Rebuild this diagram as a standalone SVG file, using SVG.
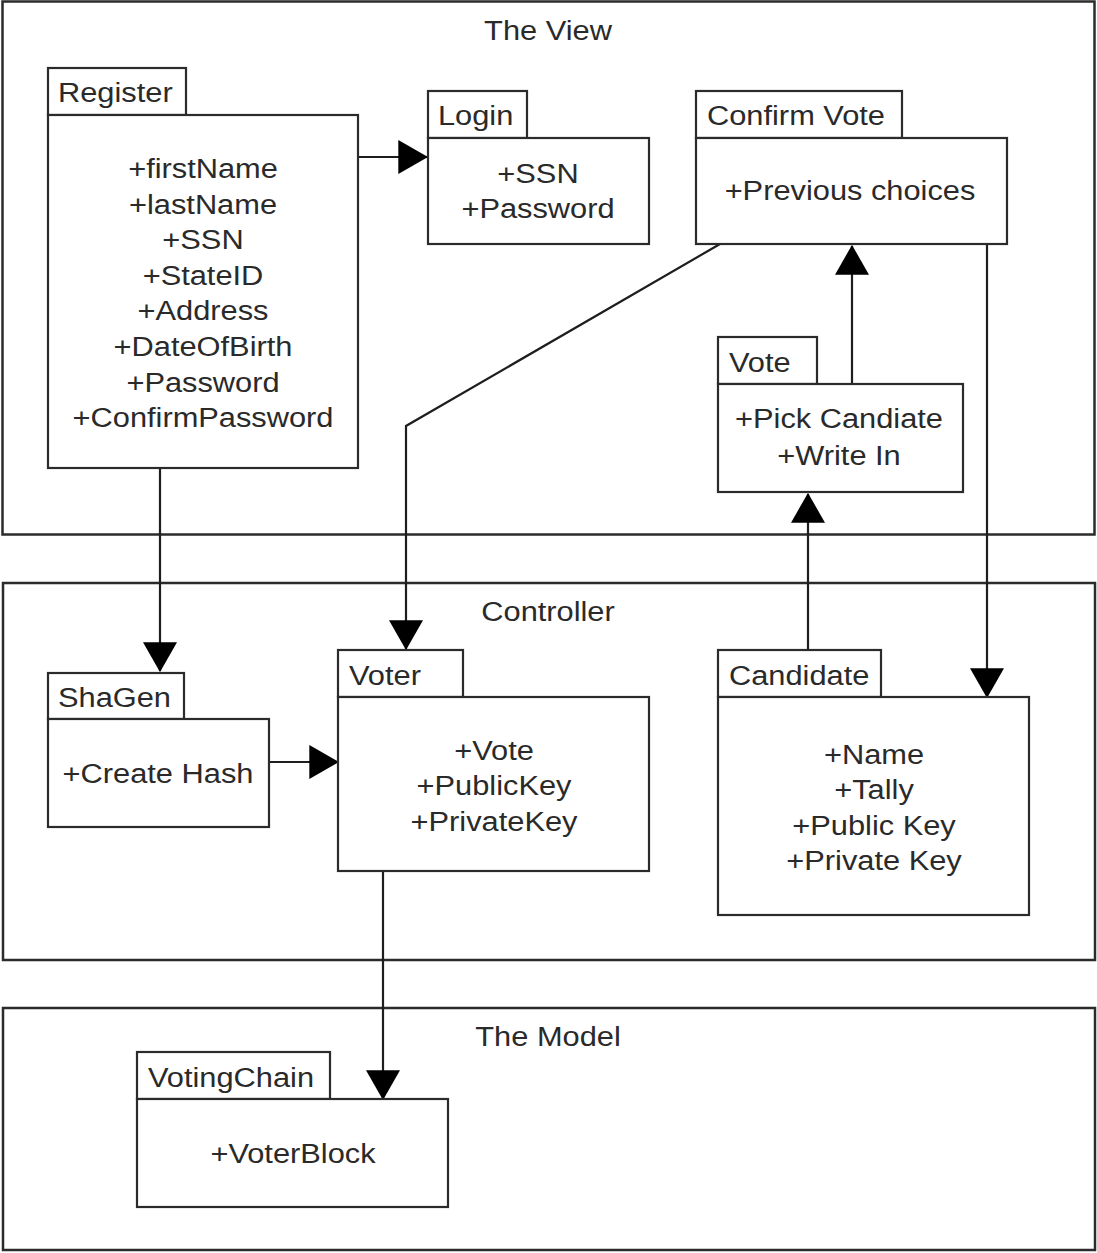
<svg xmlns="http://www.w3.org/2000/svg" width="1097" height="1253" viewBox="0 0 1097 1253">
<defs>
<style>
.frame{fill:none;stroke:#2b2b2b;stroke-width:2.5}
.box{fill:#fff;stroke:#2b2b2b;stroke-width:2.2}
.t{font-family:"Liberation Sans",Arial,sans-serif;font-size:28px;fill:#2a2a2a}
.c{text-anchor:middle}
.conn{fill:none;stroke:#1e1e1e;stroke-width:2.2}
</style>
<marker id="arr" markerUnits="userSpaceOnUse" markerWidth="30" markerHeight="34" viewBox="0 0 28 32" refX="27" refY="16" orient="auto">
<path d="M0,0 L28,16 L0,32 z" fill="#000"/>
</marker>
</defs>
<rect width="1097" height="1253" fill="#fff"/>

<g id="frame-view">
<rect class="frame" x="2.5" y="1.5" width="1092" height="533"/>
<text class="t c" transform="translate(548,40) scale(1.1,1)">The View</text>
</g>
<g id="frame-controller">
<rect class="frame" x="3" y="583" width="1092" height="377"/>
<text class="t c" transform="translate(548,621) scale(1.1,1)">Controller</text>
</g>
<g id="frame-model">
<rect class="frame" x="3" y="1008" width="1092" height="242"/>
<text class="t c" transform="translate(548,1046) scale(1.1,1)">The Model</text>
</g>

<g id="connectors">
<path class="conn" d="M358,157 H427" marker-end="url(#arr)"/>
<path class="conn" d="M160,468 V671" marker-end="url(#arr)"/>
<path class="conn" d="M720,244 L406,426 V649" marker-end="url(#arr)"/>
<path class="conn" d="M852,384 V246" marker-end="url(#arr)"/>
<path class="conn" d="M808,650 V494" marker-end="url(#arr)"/>
<path class="conn" d="M987,244 V697" marker-end="url(#arr)"/>
<path class="conn" d="M269,762 H338" marker-end="url(#arr)"/>
<path class="conn" d="M383,871 V1099" marker-end="url(#arr)"/>
</g>

<g id="register">
<rect class="box" x="48" y="68" width="138" height="47"/>
<rect class="box" x="48" y="115" width="310" height="353"/>
<text class="t" transform="translate(58,102) scale(1.1,1)">Register</text>
<text class="t c" transform="translate(203,178) scale(1.1,1)">+firstName</text>
<text class="t c" transform="translate(203,213.6) scale(1.1,1)">+lastName</text>
<text class="t c" transform="translate(203,249.2) scale(1.1,1)">+SSN</text>
<text class="t c" transform="translate(203,284.8) scale(1.1,1)">+StateID</text>
<text class="t c" transform="translate(203,320.4) scale(1.1,1)">+Address</text>
<text class="t c" transform="translate(203,356) scale(1.1,1)">+DateOfBirth</text>
<text class="t c" transform="translate(203,391.5) scale(1.1,1)">+Password</text>
<text class="t c" transform="translate(203,427) scale(1.1,1)">+ConfirmPassword</text>
</g>

<g id="login">
<rect class="box" x="428" y="91" width="99" height="47"/>
<rect class="box" x="428" y="138" width="221" height="106"/>
<text class="t" transform="translate(438,125) scale(1.1,1)">Login</text>
<text class="t c" transform="translate(538,183) scale(1.1,1)">+SSN</text>
<text class="t c" transform="translate(538,218) scale(1.1,1)">+Password</text>
</g>

<g id="confirm-vote">
<rect class="box" x="696" y="91" width="206" height="47"/>
<rect class="box" x="696" y="138" width="311" height="106"/>
<text class="t" transform="translate(707,125) scale(1.1,1)">Confirm Vote</text>
<text class="t c" transform="translate(850,200) scale(1.1,1)">+Previous choices</text>
</g>

<g id="vote">
<rect class="box" x="718" y="337" width="99" height="47"/>
<rect class="box" x="718" y="384" width="245" height="108"/>
<text class="t" transform="translate(729,372) scale(1.1,1)">Vote</text>
<text class="t c" transform="translate(839,428) scale(1.1,1)">+Pick Candiate</text>
<text class="t c" transform="translate(839,465) scale(1.1,1)">+Write In</text>
</g>

<g id="shagen">
<rect class="box" x="48" y="673" width="136" height="46"/>
<rect class="box" x="48" y="719" width="221" height="108"/>
<text class="t" transform="translate(58,707) scale(1.1,1)">ShaGen</text>
<text class="t c" transform="translate(158,783) scale(1.1,1)">+Create Hash</text>
</g>

<g id="voter">
<rect class="box" x="338" y="650" width="125" height="47"/>
<rect class="box" x="338" y="697" width="311" height="174"/>
<text class="t" transform="translate(349,685) scale(1.1,1)">Voter</text>
<text class="t c" transform="translate(494,760) scale(1.1,1)">+Vote</text>
<text class="t c" transform="translate(494,795) scale(1.1,1)">+PublicKey</text>
<text class="t c" transform="translate(494,831) scale(1.1,1)">+PrivateKey</text>
</g>

<g id="candidate">
<rect class="box" x="718" y="650" width="163" height="47"/>
<rect class="box" x="718" y="697" width="311" height="218"/>
<text class="t" transform="translate(729,685) scale(1.1,1)">Candidate</text>
<text class="t c" transform="translate(874,764) scale(1.1,1)">+Name</text>
<text class="t c" transform="translate(874,799) scale(1.1,1)">+Tally</text>
<text class="t c" transform="translate(874,835) scale(1.1,1)">+Public Key</text>
<text class="t c" transform="translate(874,870) scale(1.1,1)">+Private Key</text>
</g>

<g id="votingchain">
<rect class="box" x="137" y="1052" width="193" height="47"/>
<rect class="box" x="137" y="1099" width="311" height="108"/>
<text class="t" transform="translate(148,1087) scale(1.1,1)">VotingChain</text>
<text class="t c" transform="translate(293,1163) scale(1.1,1)">+VoterBlock</text>
</g>
</svg>
